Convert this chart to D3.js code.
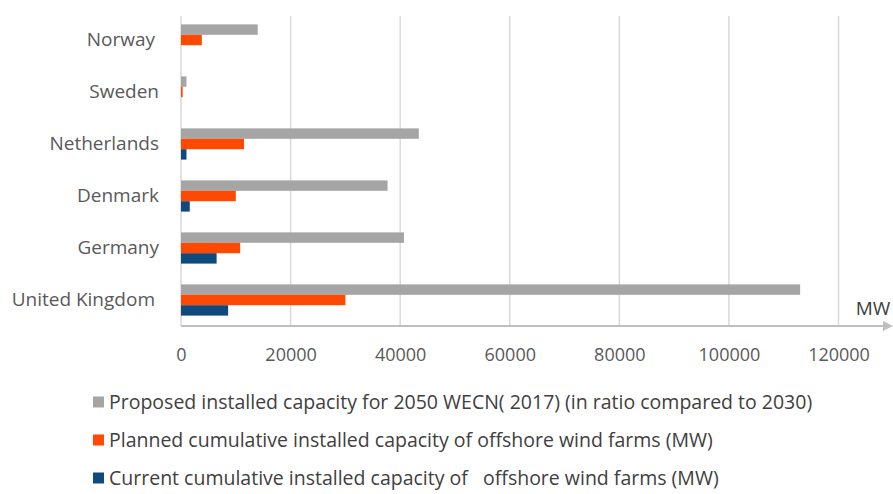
<!DOCTYPE html>
<html><head><meta charset="utf-8">
<script src="https://cdn.jsdelivr.net/npm/d3@7"></script>
<style>body{margin:0;background:#fff}svg{display:block}</style>
</head><body>
<svg id="chart" width="893" height="494"></svg>
<script>
const categories = ["Norway","Sweden","Netherlands","Denmark","Germany","United Kingdom"];
const proposed2050 = [14000, 1000, 43400, 37700, 40700, 113000];
const planned = [3800, 300, 11500, 10000, 10800, 30000];
const current = [0, 0, 1000, 1600, 6500, 8600];
const xTicks = [0,20000,40000,60000,80000,100000,120000];
const seriesNames = [
  "Proposed installed capacity for 2050 WECN( 2017) (in ratio compared to 2030)",
  "Planned cumulative installed capacity of offshore wind farms (MW)",
  "Current cumulative installed capacity of   offshore wind farms (MW)"
];
const seriesColors = ["#a5a5a5","#ff4800","#0e4a7b"];
const seriesValues = [proposed2050, planned, current];

const svg = d3.select("#chart");
const font = "'Open Sans', sans-serif";
const x = d3.scaleLinear().domain([0,120000]).range([181,838.5]);
const y = d3.scaleBand().domain(categories).range([14,326]).paddingInner(0.4).paddingOuter(0.2);
const ys = d3.scaleBand().domain([0,1,2]).range([0,y.bandwidth()]);

// gridlines
svg.append("g").selectAll("line").data(xTicks.slice(1)).join("line")
  .attr("x1",d=>x(d)).attr("x2",d=>x(d)).attr("y1",16).attr("y2",326)
  .attr("stroke","#d9d9d9").attr("stroke-width",1.5);
// vertical axis
svg.append("line").attr("x1",x(0)).attr("x2",x(0)).attr("y1",16).attr("y2",326)
  .attr("stroke","#d9d9d9").attr("stroke-width",1.5);

// bars
const rows = [];
categories.forEach((c,i)=>seriesValues.forEach((s,j)=>rows.push({c,j,v:s[i]})));
svg.append("g").selectAll("rect").data(rows.filter(r=>r.v>0)).join("rect")
  .attr("x",x(0)).attr("y",d=>y(d.c)+ys(d.j))
  .attr("width",d=>x(d.v)-x(0)).attr("height",ys.bandwidth())
  .attr("fill",d=>seriesColors[d.j]);

// x axis line w/ arrow
svg.append("defs").append("marker").attr("id","arr").attr("viewBox","0 0 10 10")
  .attr("refX",0).attr("refY",5).attr("markerWidth",5).attr("markerHeight",5)
  .attr("markerUnits","strokeWidth").attr("orient","auto")
  .append("path").attr("d","M0,0L10,5L0,10Z").attr("fill","#bfbfbf");
svg.append("line").attr("x1",x(0)).attr("x2",883).attr("y1",326).attr("y2",326)
  .attr("stroke","#bfbfbf").attr("stroke-width",2).attr("marker-end","url(#arr)");

// tick labels
const xa = d3.axisBottom(x).tickValues(xTicks).tickSize(0).tickPadding(0).tickFormat(d3.format("d"));
const gx = svg.append("g").attr("transform","translate(0,361)").call(xa);
gx.select(".domain").remove();
gx.selectAll("text").attr("font-family",font).attr("font-size",18).attr("fill","#595959").attr("dy",0).attr("y",0);

svg.append("text").attr("x",873).attr("y",315).attr("text-anchor","middle")
  .attr("font-family",font).attr("font-size",19).attr("fill","#404040").text("MW");

// category labels
const ya = d3.axisLeft(y).tickSize(0).tickPadding(0);
const gy = svg.append("g").attr("transform","translate(159,0)").call(ya);
gy.select(".domain").remove();
gy.selectAll("text").attr("font-family",font).attr("font-size",19).attr("fill","#595959")
  .attr("dx",d=>(d==="Norway"||d==="United Kingdom")?-4:0);

// legend
const lg = svg.append("g").selectAll("g").data(seriesNames).join("g")
  .attr("transform",(d,i)=>`translate(93,${402+i*38})`);
lg.append("rect").attr("x",0).attr("y",-5.5).attr("width",11).attr("height",11)
  .attr("fill",(d,i)=>seriesColors[i]);
lg.append("text").attr("x",16).attr("y",0).attr("dy","0.35em").style("white-space","pre")
  .attr("font-family",font).attr("font-size",19.5).attr("fill","#404040").text(d=>d);
</script>
</body></html>
